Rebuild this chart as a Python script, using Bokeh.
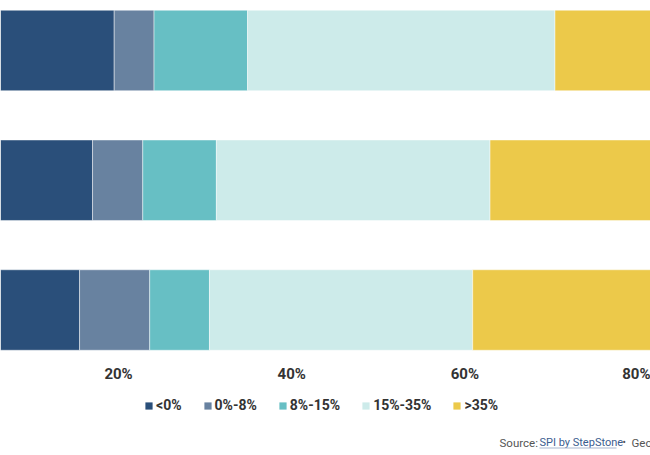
from bokeh.plotting import figure
from bokeh.layouts import column
from bokeh.models import (Range1d, FixedTicker, PrintfTickFormatter, Legend,
                          LegendItem, ColumnDataSource, Label, BoxAnnotation)
from bokeh.embed import file_html
from bokeh.resources import INLINE

# Share of funds per return bucket (percent), one row per group
groups = ["North America", "Europe", "Rest of World"]
bucket_keys = ["neg", "b0_8", "b8_15", "b15_35", "gt35"]
bucket_labels = ["<0%", "0%-8%", "8%-15%", "15%-35%", ">35%"]
neg = [19.5, 17.0, 15.5]
b0_8 = [4.6, 5.8, 8.1]
b8_15 = [10.8, 8.5, 6.9]
b15_35 = [35.5, 31.6, 30.4]
gt35 = [29.6, 37.1, 39.1]
tick_values = [20, 40, 60, 80]

colors = ["#2a4f7a", "#6882a0", "#67bfc4", "#cdebea", "#ecc94a"]

source = ColumnDataSource(dict(
    pos=list(range(len(groups))),
    group=groups,
    neg=neg, b0_8=b0_8, b8_15=b8_15, b15_35=b15_35, gt35=gt35,
))

# --- main chart: stacked horizontal bars with the percent axis below ---
p = figure(frame_width=650, frame_height=360,
           x_range=Range1d(6.37, 81.43),
           y_range=Range1d(2.389, -0.385),
           output_backend="svg", toolbar_location=None,
           min_border=0, min_border_bottom=25,
           outline_line_color=None)

p.hbar_stack(bucket_keys, y="pos", height=0.62, color=colors,
             line_color="white", line_alpha=0.45, line_width=1,
             source=source)

p.grid.visible = False
p.yaxis.visible = False

ax = p.xaxis[0]
ax.ticker = FixedTicker(ticks=tick_values)
ax.formatter = PrintfTickFormatter(format="%d%%")
ax.axis_line_color = None
ax.major_tick_line_color = None
ax.minor_tick_line_color = None
ax.major_label_standoff = -2
ax.major_label_text_font = "Roboto"
ax.major_label_text_font_style = "bold"
ax.major_label_text_font_size = "15px"
ax.major_label_text_color = "#333333"

# --- footer strip: legend and source credit ---
# The same stacked bars are added here outside the visible y-range, so the
# legend swatches come from real renderers without showing anything.
foot = figure(width=650, height=70,
              x_range=Range1d(0, 100), y_range=Range1d(50, 51),
              output_backend="svg", toolbar_location=None,
              min_border=0, outline_line_color=None)
foot.axis.visible = False
foot.grid.visible = False

swatches = foot.hbar_stack(bucket_keys, y="pos", height=0.62, color=colors,
                           line_color=None, source=source)

legend = Legend(
    items=[LegendItem(label=lab, renderers=[r]) for lab, r in zip(bucket_labels, swatches)],
    orientation="horizontal", location=(144, 42),
    glyph_width=9, glyph_height=9, label_standoff=3, spacing=21,
    padding=0, margin=0, border_line_color=None, background_fill_alpha=0,
    label_text_font="Roboto", label_text_font_style="bold",
    label_text_font_size="14px", label_text_color="#333333",
)
foot.add_layout(legend)

foot_font = "Roboto"
foot.add_layout(Label(x=499, y=13, x_units="screen", y_units="screen",
                      text="Source:", text_font=foot_font, text_font_size="11.5px",
                      text_color="#555555", text_baseline="alphabetic"))
foot.add_layout(Label(x=539, y=13, x_units="screen", y_units="screen",
                      text="SPI by StepStone", text_font=foot_font, text_font_size="11px",
                      text_color="#3b5d8f", text_baseline="alphabetic"))
foot.add_layout(BoxAnnotation(left=539, right=616, bottom=7, top=8,
                              left_units="screen", right_units="screen",
                              bottom_units="screen", top_units="screen",
                              fill_color="#a9b8cf", fill_alpha=1, line_color=None))
foot.add_layout(Label(x=622, y=13, x_units="screen", y_units="screen",
                      text="•", text_font=foot_font, text_font_size="10px",
                      text_color="#555555", text_baseline="alphabetic"))
foot.add_layout(Label(x=631, y=13, x_units="screen", y_units="screen",
                      text="Geography", text_font=foot_font, text_font_size="11.5px",
                      text_color="#555555", text_baseline="alphabetic"))

layout = column(p, foot, spacing=0)
open("out.html", "w").write(file_html(layout, INLINE))
